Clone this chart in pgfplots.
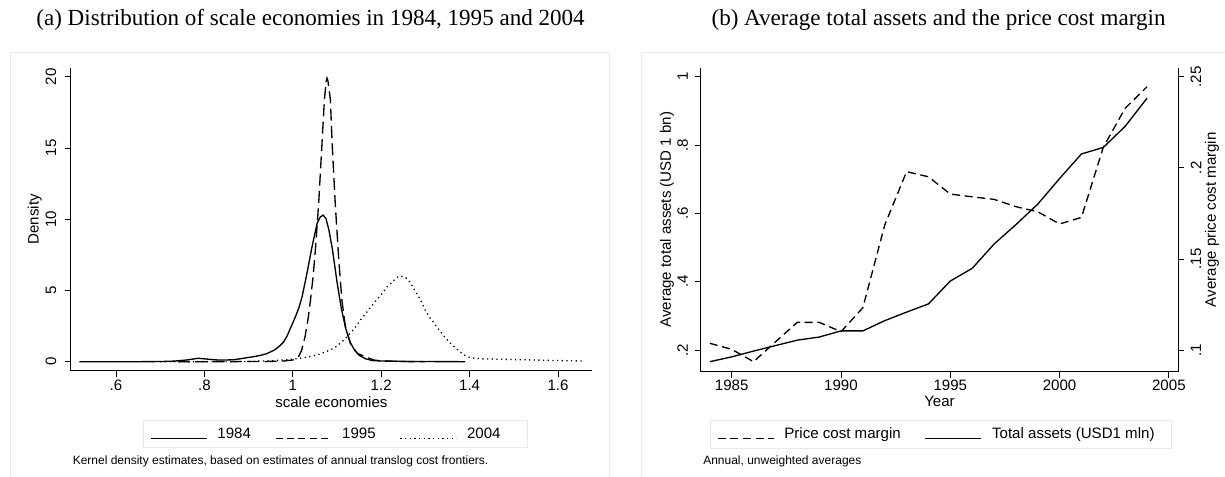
\documentclass[border=0pt]{standalone}
\usepackage{fontspec}
\usepackage{pgfplots}
\pgfplotsset{compat=1.18}
\newfontfamily\sans{Liberation Sans}
\newfontfamily\tserif{Liberation Serif}
\newcommand\axfont{\sans\fontsize{11.3}{13}\selectfont}
\newcommand\notefont{\sans\fontsize{9}{11}\selectfont}
\newcommand\titlefont{\tserif\fontsize{17.3}{20}\selectfont}

\pgfplotstableread{
x y
0.517 0
0.55 0
0.60 0
0.65 0
0.70 0.01
0.73 0.04
0.76 0.12
0.786 0.24
0.81 0.17
0.83 0.12
0.85 0.12
0.866 0.14
0.88 0.2
0.896 0.28
0.911 0.35
0.926 0.44
0.94 0.55
0.949 0.68
0.96 0.85
0.97 1.1
0.979 1.38
0.987 1.8
0.994 2.3
1.006 3.16
1.014 3.8
1.021 4.56
1.032 6.2
1.0435 8.07
1.055 9.71
1.062 10.15
1.0685 10.29
1.075 10.05
1.082 9.2
1.09 7.8
1.1 5.6
1.11 3.7
1.12 2.3
1.13 1.35
1.14 0.8
1.15 0.45
1.165 0.2
1.18 0.08
1.2 0.05
1.22 0.04
1.25 0.02
1.3 0.01
1.39 0
}\dA

\pgfplotstableread{
x y
0.74 0
0.8 0
0.85 0.005
0.9 0.01
0.95 0.02
0.98 0.05
1.0 0.12
1.008 0.22
1.013 0.35
1.02 0.8
1.028 1.8
1.035 3.1
1.04 4.33
1.046 6.0
1.051 7.84
1.0585 11.1
1.066 15.3
1.0715 18.4
1.0755 19.7
1.0775 19.9
1.0795 19.7
1.085 18.4
1.089 15.3
1.096 11.1
1.104 7.14
1.111 4.33
1.119 2.46
1.13 1.29
1.1456 0.59
1.164 0.35
1.183 0.12
1.2 0.05
1.25 0.01
1.3 0
}\dB

\pgfplotstableread{
x y
0.70 0
0.8 0.005
0.9 0.02
0.95 0.06
0.979 0.12
1.0 0.17
1.03 0.3
1.055 0.47
1.075 0.7
1.0925 0.94
1.11 1.35
1.123 1.75
1.14 2.35
1.153 2.93
1.168 3.5
1.183 4.1
1.2 4.7
1.2135 5.26
1.225 5.6
1.236 5.92
1.245 6.01
1.255 5.92
1.266 5.55
1.276 5.0
1.288 4.4
1.3 3.6
1.31 3.1
1.32 2.69
1.333 2.15
1.343 1.75
1.355 1.35
1.365 1.05
1.377 0.72
1.388 0.47
1.40 0.3
1.411 0.24
1.43 0.2
1.47 0.17
1.5 0.15
1.546 0.12
1.6 0.08
1.655 0.05
}\dC

\pgfplotstableread{
year assets pcm
1984 0.166 0.1037
1985 0.180 0.1004
1986 0.197 0.0936
1987 0.213 0.1045
1988 0.229 0.1152
1989 0.238 0.1152
1990 0.256 0.1101
1991 0.256 0.1232
1992 0.286 0.1686
1993 0.311 0.1979
1994 0.335 0.1951
1995 0.402 0.1856
1996 0.439 0.1841
1997 0.510 0.1827
1998 0.567 0.1787
1999 0.627 0.1759
2000 0.702 0.1692
2001 0.774 0.1728
2002 0.793 0.2113
2003 0.855 0.2327
2004 0.937 0.2445
}\dR

\pgfplotsset{
  stata/.style={
    scale only axis,
    anchor=south west,
    /pgf/number format/assume math mode=true,
    axis line style={-, line width=0.6pt, black},
    tick align=outside,
    major tick length=4.5pt,
    tick style={line width=0.6pt, black},
    ticklabel style={font=\axfont},
    xticklabel style={anchor=center},
    yticklabel style={anchor=center, rotate=90},
    label style={font=\axfont},
    legend image code/.code={\draw[line width=1pt,#1] (0pt,0pt) -- (42pt,0pt);},
    legend style={draw=black!9, line width=0.6pt, fill=white, font=\axfont,
      inner xsep=5pt, inner ysep=5.5pt, legend columns=-1,
      /tikz/every odd column/.append style={column sep=7.5pt},
      /tikz/every even column/.append style={column sep=18pt},
      nodes={inner sep=0pt, anchor=base west}},
  },
}

\begin{document}
\begin{tikzpicture}
\useasboundingbox (0pt,0pt) rectangle (918.75pt,357pt);
\fill[white] (0pt,0pt) rectangle (918.75pt,357pt);
\draw[black!8, line width=0.75pt] (7.9pt,-5pt) rectangle (457.1pt,317.5pt);
\draw[black!8, line width=0.75pt] (481pt,-5pt) rectangle (925pt,317.5pt);

\node[anchor=base, font=\titlefont, inner sep=0pt] at (232.9pt,338pt) {(a) Distribution of scale economies in 1984, 1995 and 2004};
\node[anchor=base, font=\titlefont, inner sep=0pt] at (703.9pt,338pt) {(b) Average total assets and the price cost margin};

\node[anchor=west, font=\notefont, inner sep=0pt] at (54.4pt,11.25pt) {Kernel density estimates, based on estimates of annual translog cost frontiers.};
\node[anchor=west, font=\notefont, inner sep=0pt] at (527.25pt,11.25pt) {Annual, unweighted averages};

% ---- left panel
\begin{axis}[stata,
  at={(53.03pt,78.98pt)},
  width=391pt, height=227pt,
  xmin=0.4975, xmax=1.677, ymin=-0.632, ymax=20.61,
  axis x line*=bottom, axis y line*=left,
  xtick={0.6,0.8,1,1.2,1.4,1.6}, xticklabels={.6,.8,1,1.2,1.4,1.6},
  ytick={0,5,10,15,20}, yticklabels={0,5,10,15,20},
  xticklabel shift=6.2pt, yticklabel shift=10.3pt,
  xlabel={scale economies}, ylabel={Density},
  xlabel style={at={(axis description cs:0.5,0)}, anchor=center, yshift=-23.2pt},
  ylabel style={at={([xshift=-27pt]axis description cs:0,0.5)}, anchor=center},
  legend style={at={(axis description cs:0,0)}, anchor=north west, xshift=54.2pt, yshift=-37pt},
]
\addplot[black, line width=1pt] table[x=x,y=y] {\dA};
\addlegendentry{1984}
\addlegendimage{black, line width=1pt, dash pattern=on 5.3pt off 3.2pt}
\addlegendentry{1995}
\addplot[black, line width=1pt, dash pattern=on 9pt off 4pt, forget plot] table[x=x,y=y] {\dB};
\addplot[black, line width=1pt, dash pattern=on 0.9pt off 2.6pt] table[x=x,y=y] {\dC};
\addlegendentry{2004\hspace*{15pt}}
\end{axis}

% ---- right panel, left axis
\begin{axis}[stata,
  at={(525.5pt,78.2pt)},
  width=358.2pt, height=228.15pt,
  xmin=1983.58, xmax=2005.43, ymin=0.1365, ymax=1.0269,
  axis x line*=bottom, axis y line*=left,
  xtick={1985,1990,1995,2000,2005}, xticklabels={1985,1990,1995,2000,2005},
  ytick={0.2,0.4,0.6,0.8,1}, yticklabels={.2,.4,.6,.8,1},
  xticklabel shift=5.5pt, yticklabel shift=9pt,
  xlabel={Year}, ylabel={Average total assets (USD 1 bn)},
  xlabel style={at={(axis description cs:0.5,0)}, anchor=center, yshift=-22.5pt},
  ylabel style={at={([xshift=-25.3pt]axis description cs:0,0.5)}, anchor=center},
]
\addplot[black, line width=1pt] table[x=year,y=assets] {\dR};
\end{axis}

% ---- right panel, right axis
\begin{axis}[stata,
  at={(525.5pt,78.2pt)},
  width=358.2pt, height=228.15pt,
  xmin=1983.58, xmax=2005.43, ymin=0.0881, ymax=0.25505,
  axis x line=none, axis y line*=right,
  ytick={0.1,0.15,0.2,0.25}, yticklabels={.1,.15,.2,.25},
  yticklabel shift=8.8pt,
  ylabel={Average price cost margin},
  ylabel style={at={([xshift=25.3pt]axis description cs:1,0.5)}, anchor=center},
  legend style={at={(axis description cs:0,0)}, anchor=north west, xshift=7pt, yshift=-36.2pt},
]
\addplot[black, line width=1pt, dash pattern=on 6pt off 3.5pt] table[x=year,y=pcm] {\dR};
\addlegendentry{Price cost margin}
\addlegendimage{black, line width=1pt}
\addlegendentry{Total assets (USD1 mln)\hspace*{8pt}}
\end{axis}
\end{tikzpicture}
\end{document}
